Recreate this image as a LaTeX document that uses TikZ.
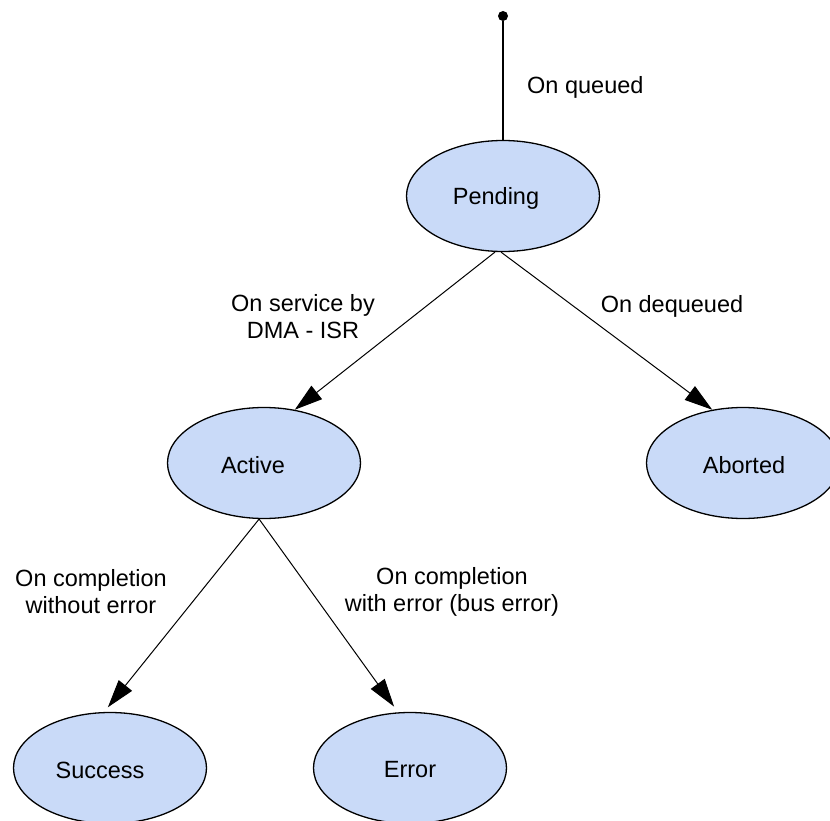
\documentclass[tikz,border=0pt]{standalone}
\usepackage{fontspec}
\setmainfont{Liberation Sans}
\usetikzlibrary{arrows.meta,shapes.geometric}
\definecolor{statefill}{HTML}{C9DAF8}
\tikzset{
  state/.style={ellipse, draw=black, line width=1.3pt, fill=statefill,
    minimum width=193pt, minimum height=111pt, inner sep=0pt},
  edgelabel/.style={inner sep=0pt, align=center},
  trans/.style={line width=1pt, -{Triangle[length=28pt,width=17pt]}},
}
\begin{document}
\begin{tikzpicture}[x=1pt,y=-1pt,
  every node/.style={font=\fontsize{23.5}{27}\selectfont}]
\useasboundingbox (0,0) rectangle (830,821);
\clip (0,0) rectangle (830,821);
\fill[white] (0,0) rectangle (830,821);

\node[circle, fill=black, inner sep=0pt, minimum size=10pt] (start) at (503,16) {};
\node[state, label={[xshift=-7pt,yshift=-2pt]center:Pending}] (pending) at (503,196) {};
\node[state, label={[xshift=-11pt,yshift=-2pt]center:Active}] (active) at (264,463) {};
\node[state, label={[xshift=1pt,yshift=-2pt]center:Aborted}] (aborted) at (743,463) {};
\node[state, label={[xshift=-10pt,yshift=-2pt]center:Success}] (success) at (110,768) {};
\node[state, label={[yshift=-2pt]center:Error}] (error) at (410,768) {};

\draw[line width=2.2pt] (start) -- (pending.north);
\draw[trans] (pending.262) -- (active.60);
\draw[trans] (pending.268) -- (aborted.120);
\draw[trans, shorten >=6pt] (active.265) -- (success.96);
\draw[trans, shorten >=7pt] (active.265) -- (error.102);

\node[edgelabel, anchor=west] (lq) at (527,87) {On queued};
\node[edgelabel] (ls) at (303,317) {On service by\\DMA - ISR};
\node[edgelabel] (ld) at (672,306) {On dequeued};
\node[edgelabel] (lc) at (91,592) {On completion\\without error};
\node[edgelabel] (le) at (452,592) {On completion\\with error (bus error)};
\end{tikzpicture}
\end{document}
